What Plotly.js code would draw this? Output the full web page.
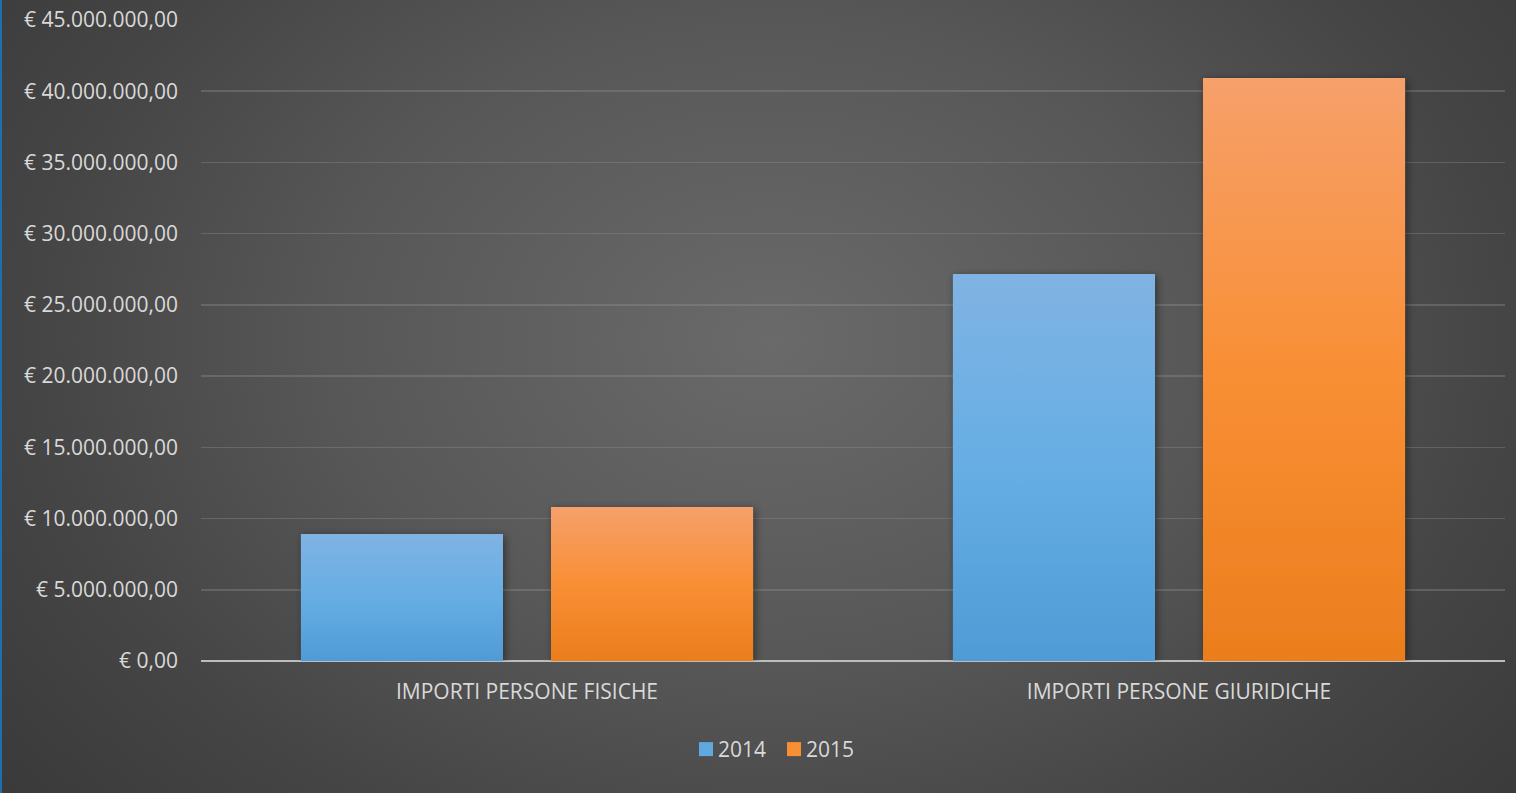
<!DOCTYPE html>
<html>
<head>
<meta charset="utf-8">
<script src="https://cdn.plot.ly/plotly-3.0.1.min.js"></script>
<style>
html,body{margin:0;padding:0;background:#3b3b3b;overflow:hidden;}
#wrap{position:relative;width:1516px;height:793px;
  background:radial-gradient(ellipse 980px 720px at 770px 340px,#6a6a6a 0%,#575757 45%,#454545 75%,#3a3a3a 100%);}
#chart{position:absolute;left:0;top:0;width:1516px;height:793px;}
#edge{position:absolute;left:0;top:0;width:2px;height:793px;background:#1f6db3;z-index:5;}
</style>
</head>
<body>
<div id="wrap"><div id="edge"></div><div id="chart"></div></div>
<script>
const categories = ['IMPORTI PERSONE FISICHE', 'IMPORTI PERSONE GIURIDICHE'];
const seriesNames = ['2014', '2015'];
const values2014 = [8920000, 27170000];
const values2015 = [10810000, 40930000];
const tickValues = [0, 5000000, 10000000, 15000000, 20000000, 25000000, 30000000, 35000000, 40000000, 45000000];
const tickLabels = ['€ 0,00', '€ 5.000.000,00', '€ 10.000.000,00', '€ 15.000.000,00', '€ 20.000.000,00',
  '€ 25.000.000,00', '€ 30.000.000,00', '€ 35.000.000,00', '€ 40.000.000,00', '€ 45.000.000,00'];

const textColor = '#d9d9d9';
const fontFam = 'Open Sans, sans-serif';

const traces = [
  {type: 'bar', name: seriesNames[0], x: categories, y: values2014,
   marker: {color: '#5fa8e0', line: {width: 0}}, hoverinfo: 'none'},
  {type: 'bar', name: seriesNames[1], x: categories, y: values2015,
   marker: {color: '#f98f33', line: {width: 0}}, hoverinfo: 'none'}
];

const layout = {
  width: 1516, height: 793,
  paper_bgcolor: 'rgba(0,0,0,0)', plot_bgcolor: 'rgba(0,0,0,0)',
  margin: {l: 201, r: 11, t: 20, b: 132},
  barmode: 'group', bargap: 0.233, bargroupgap: 0.192,
  font: {family: fontFam, color: textColor, size: 21},
  xaxis: {type: 'category', showgrid: false, zeroline: false, showline: false, ticks: '',
    tickfont: {size: 21, color: textColor, family: fontFam}, ticklabelstandoff: 16},
  yaxis: {range: [0, 45000000], tickmode: 'array', tickvals: tickValues, ticktext: tickLabels,
    showgrid: true, gridcolor: 'rgba(150,150,150,0.35)', gridwidth: 1.5,
    zeroline: true, zerolinecolor: '#bdbdbd', zerolinewidth: 2.5, showline: false, ticks: '',
    tickfont: {size: 21, color: textColor, family: fontFam}, ticklabelstandoff: 22},
  showlegend: true,
  legend: {orientation: 'h', x: 0.5, xanchor: 'center', y: -0.138, yanchor: 'middle',
    font: {size: 21, color: textColor, family: fontFam}, itemwidth: 30, tracegroupgap: 0,
    bgcolor: 'rgba(0,0,0,0)'}
};

Plotly.newPlot('chart', traces, layout, {displayModeBar: false, staticPlot: true}).then(function(gd){
  const svgNS = 'http://www.w3.org/2000/svg';
  const svg = gd.querySelector('.main-svg');
  const defs = document.createElementNS(svgNS, 'defs');
  defs.innerHTML =
    '<linearGradient id="g2014" x1="0" y1="0" x2="0" y2="1">' +
      '<stop offset="0" stop-color="#80b3e3"/><stop offset="0.5" stop-color="#66aee4"/><stop offset="1" stop-color="#4f9bd6"/></linearGradient>' +
    '<linearGradient id="g2015" x1="0" y1="0" x2="0" y2="1">' +
      '<stop offset="0" stop-color="#f6a06b"/><stop offset="0.5" stop-color="#f98f35"/><stop offset="1" stop-color="#eb7e1d"/></linearGradient>' +
    '<filter id="shadow" x="-10%" y="-10%" width="125%" height="125%">' +
      '<feDropShadow dx="2" dy="2" stdDeviation="4" flood-color="#000" flood-opacity="0.45"/></filter>';
  svg.insertBefore(defs, svg.firstChild);
  const traceGroups = gd.querySelectorAll('.barlayer .trace.bars');
  const ids = ['g2014', 'g2015'];
  traceGroups.forEach(function(tg, i){
    tg.querySelectorAll('.point path').forEach(function(p){
      p.style.fill = 'url(#' + ids[i] + ')';
      p.setAttribute('filter', 'url(#shadow)');
    });
  });

  // tighten legend: larger swatches closer to text, entries closer together
  gd.querySelectorAll('.legend [clip-path]').forEach(function(el){ el.removeAttribute('clip-path'); });
  const items = gd.querySelectorAll('.legend .traces');
  const targetCx = [706, 794];
  items.forEach(function(it){
    const txt = it.querySelector('text.legendtext');
    if (txt) txt.setAttribute('x', 32);
    const pt = it.querySelector('.legendpoints path');
    if (pt) pt.setAttribute('d', 'M7,7H-7V-7H7Z');
  });
  items.forEach(function(it, i){
    const pt = it.querySelector('.legendpoints path');
    if (!pt) return;
    const r = pt.getBoundingClientRect();
    const cx = r.left + r.width / 2;
    const tr = it.getAttribute('transform') || 'translate(0,0)';
    const m = tr.match(/translate\(\s*([-\d.e]+)[ ,]+([-\d.e]+)\s*\)/);
    const x = m ? parseFloat(m[1]) : 0, y = m ? parseFloat(m[2]) : 0;
    it.setAttribute('transform', 'translate(' + (x + targetCx[i] - cx) + ',' + y + ')');
  });
});
</script>
</body>
</html>
